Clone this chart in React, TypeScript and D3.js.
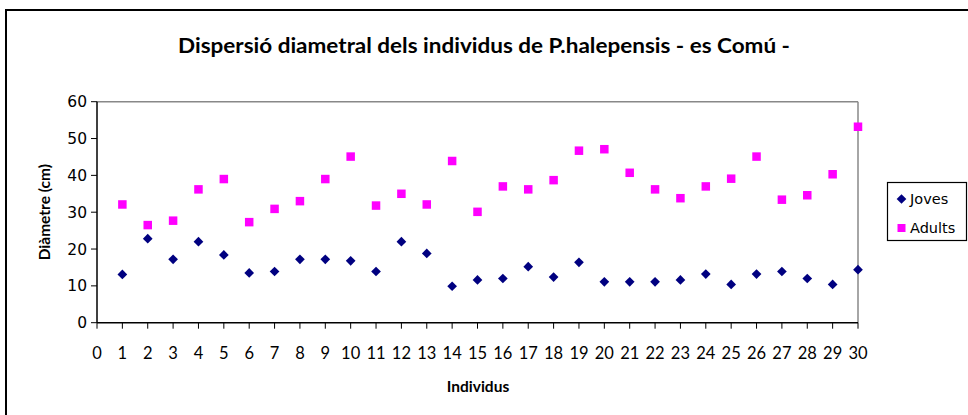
import React from "react";
import * as d3 from "d3";

const individus = d3.range(1, 31);
const joves = [13.1, 22.8, 17.2, 22.0, 18.4, 13.5, 13.9, 17.2, 17.2, 16.8, 13.9, 22.0, 18.8, 9.9, 11.6, 12.0, 15.2, 12.4, 16.4, 11.1, 11.1, 11.1, 11.6, 13.2, 10.4, 13.2, 13.9, 12.0, 10.4, 14.4];
const adults = [32.1, 26.5, 27.7, 36.2, 39.0, 27.3, 30.9, 33.0, 39.0, 45.1, 31.8, 35.0, 32.1, 43.9, 30.1, 37.0, 36.2, 38.7, 46.7, 47.1, 40.7, 36.2, 33.8, 37.0, 39.1, 45.1, 33.4, 34.6, 40.3, 53.2];
const xTicks = d3.range(0, 31);
const yTicks = [0, 10, 20, 30, 40, 50, 60];

const W = 968, H = 415;
const L = 97, R = 858, T = 101.7, B = 322.7;

export default function App() {
  const x = d3.scaleLinear().domain([0, 30]).range([L, R]);
  const y = d3.scaleLinear().domain([0, 60]).range([B, T]);
  const diamond = d3.symbol().type(d3.symbolDiamond2).size(60)();
  const sq = 8.5;
  return (
    <svg width={W} height={H} style={{ position: "absolute", left: 0, top: 0 }}>
      <rect x={0} y={0} width={W} height={H} fill="#fff" />
      <rect x={6} y={10} width={W + 10} height={H + 10} fill="none" stroke="#000" strokeWidth={2} />
      <text x={484} y={53} textAnchor="middle" fontFamily="Lato" fontWeight="bold" fontSize={20} textLength={612} lengthAdjust="spacingAndGlyphs">
        Dispersió diametral dels individus de P.halepensis - es Comú -
      </text>
      {/* plot frame */}
      <line x1={L} x2={R} y1={T} y2={T} stroke="#888" strokeWidth={1.5} />
      <line x1={R} x2={R} y1={T} y2={B} stroke="#888" strokeWidth={1.5} />
      <line x1={L} x2={L} y1={T} y2={B} stroke="#000" strokeWidth={1.5} />
      <line x1={L} x2={R} y1={B} y2={B} stroke="#000" strokeWidth={1.5} />
      {yTicks.map((t) => (
        <g key={"y" + t}>
          <line x1={L - 6} x2={L} y1={y(t)} y2={y(t)} stroke="#000" />
          <text x={L - 10} y={y(t)} dy="0.36em" textAnchor="end" fontFamily="DejaVu Sans" fontSize={15.5}>{t}</text>
        </g>
      ))}
      {xTicks.map((t) => (
        <g key={"x" + t}>
          <line x1={x(t)} x2={x(t)} y1={B} y2={B + 6} stroke="#000" />
          <text x={x(t)} y={359} textAnchor="middle" fontFamily="Lato" fontSize={16.5}>{t}</text>
        </g>
      ))}
      <text x={478} y={392} textAnchor="middle" fontFamily="Lato" fontWeight="bold" fontSize={15.5}>Individus</text>
      <text transform={`translate(50,${(T + B) / 2}) rotate(-90)`} textAnchor="middle" fontFamily="Lato" fontWeight="bold" fontSize={15.5}>Diàmetre (cm)</text>
      {individus.map((d, i) => (
        <rect key={"a" + d} x={x(d) - sq / 2} y={y(adults[i]) - sq / 2} width={sq} height={sq} fill="#ff00ff" />
      ))}
      {individus.map((d, i) => (
        <path key={"j" + d} d={diamond} transform={`translate(${x(d)},${y(joves[i])})`} fill="#000080" />
      ))}
      {/* legend */}
      <rect x={887.5} y={182.5} width={79} height={58} fill="#fff" stroke="#000" strokeWidth={1.2} />
      <path d={diamond} transform="translate(901.5,199)" fill="#000080" />
      <text x={910} y={199} dy="0.36em" fontFamily="DejaVu Sans" fontSize={14.5}>Joves</text>
      <rect x={897.5} y={224} width={8} height={8} fill="#ff00ff" />
      <text x={910} y={228} dy="0.36em" fontFamily="DejaVu Sans" fontSize={14.5}>Adults</text>
    </svg>
  );
}
